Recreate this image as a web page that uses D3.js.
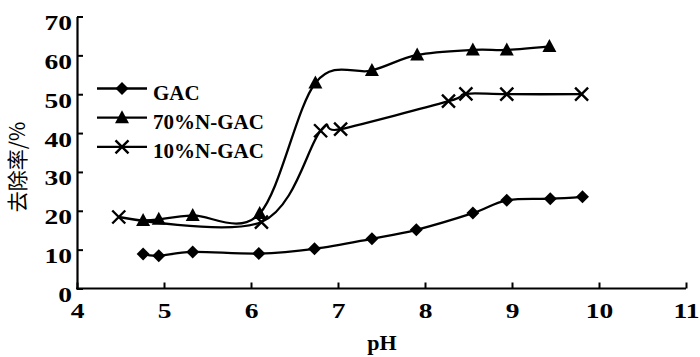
<!DOCTYPE html>
<html><head><meta charset="utf-8">
<script src="https://cdn.jsdelivr.net/npm/d3@7"></script>
<style>html,body{margin:0;padding:0;background:#fff}svg{display:block}</style>
</head><body>
<svg id="c" width="700" height="357"></svg>
<script>
const xTicks = [4,5,6,7,8,9,10,11];
const yTicks = [0,10,20,30,40,50,60,70];
const seriesNames = ["GAC","70%N-GAC","10%N-GAC"];
const gacPH   = [4.76,4.94,5.33,6.09,6.73,7.39,7.90,8.55,8.94,9.44,9.81];
const gacVal  = [8.9,8.4,9.4,9.0,10.2,12.8,15.1,19.4,22.7,23.1,23.6];
const n70PH   = [4.76,4.94,5.33,6.10,6.74,7.39,7.91,8.55,8.94,9.43];
const n70Val  = [17.5,17.8,18.8,19.3,52.9,56.1,60.1,61.4,61.4,62.3];
const n10PH   = [4.48,6.12,6.80,7.03,8.27,8.47,8.94,9.80];
const n10Val  = [18.4,17.1,40.6,41.0,48.2,50.1,50.0,50.0];

const svg = d3.select("#c");
const x = d3.scaleLinear().domain([4,11]).range([77,686]);
const y = d3.scaleLinear().domain([0,70]).range([288.5,16.5]);
const serif = "'Liberation Serif','Times New Roman',serif";

// axes
const gx = svg.append("g").attr("transform","translate(0,288.5)")
  .call(d3.axisBottom(x).tickValues(xTicks).tickSizeInner(-6).tickSizeOuter(0).tickFormat(d3.format("d")));
const gy = svg.append("g").attr("transform","translate(77,0)")
  .call(d3.axisLeft(y).tickValues(yTicks).tickSizeInner(-6).tickSizeOuter(0).tickFormat(d3.format("d")));
[gx,gy].forEach(g=>{
  g.select(".domain").attr("stroke","#000").attr("stroke-width",2.2);
  g.selectAll(".tick line").attr("stroke","#000").attr("stroke-width",2);
  g.selectAll(".tick text").attr("fill","#000").attr("font-family",serif)
   .attr("font-weight","bold").attr("font-size",22);
});
gx.selectAll(".tick text").attr("y",0).attr("dy",0)
  .attr("transform","translate(0,29) scale(1.25,1)");
gy.selectAll(".tick text").attr("x",0).attr("dy",0)
  .attr("text-anchor","end").attr("transform","translate(-5,13) scale(1.25,1)");
// x domain extend to the left edge of y axis
gx.select(".domain").attr("d","M"+(x.range()[0]-1)+",0H"+x.range()[1]);
// right end tick at 11 shows already

// lines
const line = d3.line().x(d=>x(d[0])).y(d=>y(d[1])).curve(d3.curveCardinal.tension(0));
const data = [
  gacPH.map((p,i)=>[p,gacVal[i]]),
  n70PH.map((p,i)=>[p,n70Val[i]]),
  n10PH.map((p,i)=>[p,n10Val[i]])
];
data.forEach(d=>{
  svg.append("path").attr("d",line(d)).attr("fill","none")
    .attr("stroke","#000").attr("stroke-width",2.3);
});

function marker(g,type,cx,cy){
  if(type===0){
    g.append("path").attr("d",`M${cx},${cy-6.5}L${cx+6.5},${cy}L${cx},${cy+6.5}L${cx-6.5},${cy}Z`).attr("fill","#000");
  } else if(type===1){
    g.append("path").attr("d",`M${cx},${cy-7.5}L${cx+7},${cy+5.5}L${cx-7},${cy+5.5}Z`).attr("fill","#000");
  } else {
    g.append("path").attr("d",`M${cx-6.5},${cy-6.5}L${cx+6.5},${cy+6.5}M${cx+6.5},${cy-6.5}L${cx-6.5},${cy+6.5}`)
      .attr("stroke","#000").attr("stroke-width",2.4).attr("fill","none");
  }
}
const mg = svg.append("g");
data.forEach((d,k)=>d.forEach(p=>marker(mg,k,x(p[0]),y(p[1]))));

// legend
const lg = svg.append("g");
seriesNames.forEach((name,i)=>{
  const ly = 88.5 + i*29.2;
  lg.append("line").attr("x1",97).attr("x2",147).attr("y1",ly).attr("y2",ly)
    .attr("stroke","#000").attr("stroke-width",2.3);
  marker(lg,i,122,ly);
  lg.append("text").attr("x",153).attr("y",ly+11.5).text(name)
    .attr("font-family",serif).attr("font-weight","bold").attr("font-size",21).attr("fill","#000");
});

// axis titles
svg.append("text").attr("x",382).attr("y",350).attr("text-anchor","middle")
  .attr("font-family",serif).attr("font-weight","bold").attr("font-size",22).text("pH");
svg.append("text").attr("transform","translate(25,167) rotate(-90)").attr("text-anchor","middle")
  .attr("font-family","'Noto Sans CJK SC',sans-serif").attr("font-size",21).attr("fill","#000").text("去除率/%");
</script>
</body></html>
